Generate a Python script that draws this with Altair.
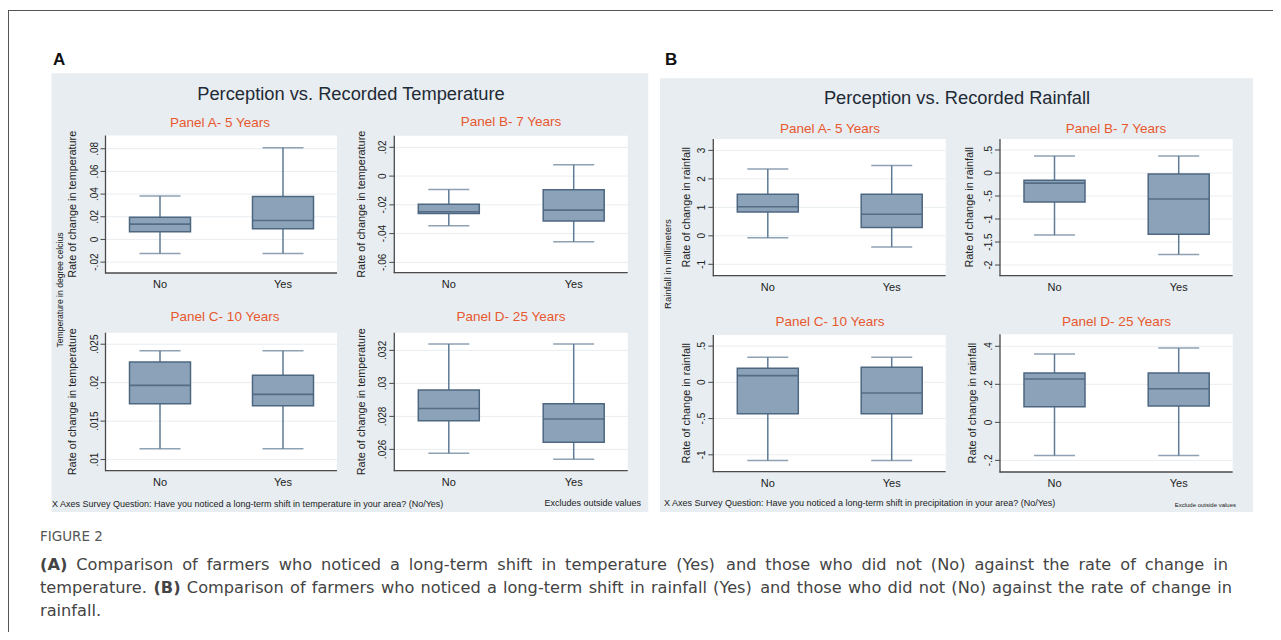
import altair as alt
import pandas as pd

# ---------------- data ----------------
groups = ["No", "Yes"]

# Temperature, Panel A- 5 Years
t5_low = [-0.0123, -0.0123]
t5_q1 = [0.0067, 0.0094]
t5_med = [0.0135, 0.0167]
t5_q3 = [0.0196, 0.0378]
t5_high = [0.0384, 0.0810]
t5_ticks = [-0.02, 0.0, 0.02, 0.04, 0.06, 0.08]
t5_tick_labels = ["-.02", "0", ".02", ".04", ".06", ".08"]
t5_range = [-0.0296, 0.0917]

# Temperature, Panel B- 7 Years
t7_low = [-0.0345, -0.0457]
t7_q1 = [-0.0260, -0.0313]
t7_med = [-0.0248, -0.0237]
t7_q3 = [-0.0195, -0.0095]
t7_high = [-0.0093, 0.0079]
t7_ticks = [-0.06, -0.04, -0.02, 0.0, 0.02]
t7_tick_labels = ["-.06", "-.04", "-.02", "0", ".02"]
t7_range = [-0.0672, 0.0281]

# Temperature, Panel C- 10 Years
t10_low = [0.01142, 0.01142]
t10_q1 = [0.01727, 0.01701]
t10_med = [0.01965, 0.01848]
t10_q3 = [0.02269, 0.02095]
t10_high = [0.02416, 0.02416]
t10_ticks = [0.01, 0.015, 0.02, 0.025]
t10_tick_labels = [".01", ".015", ".02", ".025"]
t10_range = [0.00855, 0.0265]

# Temperature, Panel D- 25 Years
t25_low = [0.02576, 0.02541]
t25_q1 = [0.02774, 0.02644]
t25_med = [0.02848, 0.02784]
t25_q3 = [0.02960, 0.02877]
t25_high = [0.03238, 0.03238]
t25_ticks = [0.026, 0.028, 0.030, 0.032]
t25_tick_labels = [".026", ".028", ".03", ".032"]
t25_range = [0.02471, 0.03307]

# Rainfall, Panel A- 5 Years
r5_low = [-0.07, -0.39]
r5_q1 = [0.84, 0.29]
r5_med = [1.02, 0.76]
r5_q3 = [1.46, 1.46]
r5_high = [2.35, 2.47]
r5_ticks = [-1, 0, 1, 2, 3]
r5_tick_labels = ["-1", "0", "1", "2", "3"]
r5_range = [-1.40, 3.40]

# Rainfall, Panel B- 7 Years
r7_low = [-1.35, -1.77]
r7_q1 = [-0.63, -1.33]
r7_med = [-0.22, -0.565]
r7_q3 = [-0.16, -0.02]
r7_high = [0.37, 0.37]
r7_ticks = [-2, -1.5, -1, -0.5, 0, 0.5]
r7_tick_labels = ["-2", "-1.5", "-1", "-.5", "0", ".5"]
r7_range = [-2.232, 0.739]

# Rainfall, Panel C- 10 Years
r10_low = [-1.077, -1.077]
r10_q1 = [-0.433, -0.433]
r10_med = [0.092, -0.147]
r10_q3 = [0.193, 0.207]
r10_high = [0.345, 0.345]
r10_ticks = [-1, -0.5, 0, 0.5]
r10_tick_labels = ["-1", "-.5", "0", ".5"]
r10_range = [-1.233, 0.653]

# Rainfall, Panel D- 25 Years
r25_low = [-0.174, -0.174]
r25_q1 = [0.0825, 0.086]
r25_med = [0.228, 0.177]
r25_q3 = [0.260, 0.260]
r25_high = [0.360, 0.391]
r25_ticks = [-0.2, 0, 0.2, 0.4]
r25_tick_labels = ["-.2", "0", ".2", ".4"]
r25_range = [-0.261, 0.463]

# caption text (justified lines)
cap_line1 = ("(A) Comparison of farmers who noticed a long-term shift in temperature "
             "(Yes) and those who did not (No) against the rate of change in")
cap_line2 = ("temperature. (B) Comparison of farmers who noticed a long-term shift in "
             "rainfall (Yes) and those who did not (No) against the rate of change in")
cap_line3 = "rainfall."
cap_bold = ["(A)", "(B)"]

# ---------------- layout / style ----------------
OX = OY = 8
W, H = 1265, 624

def cx(x):
    return x - OX

def cy(y):
    return y - OY

FONT = "Liberation Sans"
CAPFONT = "DejaVu Sans"
CAPSIZE = 16.2
PANEL_BG = "#E7EDF1"
GRID = "#E9EDF0"
AXIS = "#4A4A4A"
FILL = "#8CA2B9"
STROKE = "#4D6781"
WHISK = "#5F7A94"
MED = "#3D566F"
ORANGE = "#E8582E"
TXT = "#222222"
CAPCOL = "#444444"

one = pd.DataFrame({"k": [0]})

# approximate DejaVu Sans advance widths (units per em = 2048)
DV_REG = {" ": 651, "(": 799, ")": 799, "-": 739, ".": 651,
          "a": 1255, "b": 1300, "c": 1126, "d": 1300, "e": 1260, "f": 721,
          "g": 1300, "h": 1298, "i": 569, "k": 1186, "l": 569, "m": 1995,
          "n": 1298, "o": 1253, "p": 1300, "r": 842, "s": 1067, "t": 803,
          "u": 1298, "v": 1212, "w": 1675, "y": 1212,
          "A": 1401, "B": 1405, "C": 1430, "N": 1532, "Y": 1253}
DV_BOLD = {"(": 938, ")": 938, "A": 1587, "B": 1567}


def word_width(w, size, bold):
    tbl = DV_BOLD if bold else DV_REG
    return sum(tbl.get(ch, DV_REG.get(ch, 1250)) for ch in w) / 2048 * size


def justify(line, x0, x1, size):
    words = line.split(" ")
    bolds = [w in cap_bold for w in words]
    widths = [word_width(w, size, b) for w, b in zip(words, bolds)]
    gap = (x1 - x0 - sum(widths)) / (len(words) - 1)
    rows = []
    x = x0
    for i, (w, b, wd) in enumerate(zip(words, bolds, widths)):
        if i == len(words) - 1:
            rows.append({"w": w, "x": cx(x1), "bold": b, "al": "right"})
        else:
            rows.append({"w": w, "x": cx(x), "bold": b, "al": "left"})
        x += wd + gap
    return rows


def rect(x1, x2, y1, y2, fill):
    return alt.Chart(one).mark_rect(fill=fill).encode(
        x=alt.value(cx(x1)), x2=alt.value(cx(x2)),
        y=alt.value(cy(y1)), y2=alt.value(cy(y2)))


def hline(x1, x2, y, color, w=1.0):
    return alt.Chart(one).mark_rule(color=color, strokeWidth=w).encode(
        x=alt.value(cx(x1)), x2=alt.value(cx(x2)), y=alt.value(cy(y)))


def vline(x, y1, y2, color, w=1.0):
    return alt.Chart(one).mark_rule(color=color, strokeWidth=w).encode(
        x=alt.value(cx(x)), y=alt.value(cy(y1)), y2=alt.value(cy(y2)))


def text(x, y, s, size, color=TXT, weight="normal", align="center",
         angle=0, font=FONT, baseline="middle"):
    kw = dict(text=s, fontSize=size, color=color, fontWeight=weight,
              align=align, font=font, baseline=baseline)
    if angle:
        kw["angle"] = angle
    return alt.Chart(one).mark_text(**kw).encode(
        x=alt.value(cx(x)), y=alt.value(cy(y)))


def caption_line(line, y, x0, x1):
    rows = justify(line, x0, x1, CAPSIZE)
    out = []
    for bold in (False, True):
        for al in ("left", "right"):
            sel = [r for r in rows if r["bold"] == bold and r["al"] == al]
            if not sel:
                continue
            df = pd.DataFrame(sel)
            out.append(alt.Chart(df).mark_text(
                fontSize=CAPSIZE, font=CAPFONT, color=CAPCOL, align=al,
                baseline="middle", fontWeight="bold" if bold else "normal"
            ).encode(x=alt.X("x:Q", scale=None, axis=None),
                     y=alt.value(cy(y)), text="w:N"))
    return out


def subplot(box, title_xy, title, ytitle, ytitle_dx, yr,
            low, q1, med, q3, high, ticks, tick_labels):
    L, R, T, B = box
    yscale = alt.Scale(domain=yr, range=[cy(B), cy(T)], nice=False, zero=False)
    xscale = alt.Scale(type="point", domain=groups,
                       range=[cx(L + 54.5), cx(R - 54)], padding=0)
    bdf = pd.DataFrame({"group": groups, "low": low, "q1": q1, "med": med,
                        "q3": q3, "high": high})
    tdf = pd.DataFrame({"v": ticks, "lab": tick_labels})
    X = alt.X("group:N", scale=xscale, axis=None)

    def Y(f):
        return alt.Y(f, type="quantitative", scale=yscale, axis=None)

    layers = [
        rect(L, R, T, B, "white"),
        alt.Chart(tdf).mark_rule(color=GRID, strokeWidth=1).encode(
            y=Y("v"), x=alt.value(cx(L)), x2=alt.value(cx(R))),
        alt.Chart(tdf).mark_rule(color=AXIS, strokeWidth=1).encode(
            y=Y("v"), x=alt.value(cx(L - 5)), x2=alt.value(cx(L))),
        alt.Chart(tdf).mark_text(angle=270, fontSize=10, color=TXT, font=FONT,
                                 align="center", baseline="middle").encode(
            y=Y("v"), x=alt.value(cx(L - 11)), text="lab:N"),
        vline(L, T, B + 0.5, AXIS, 1.3),
        hline(L - 0.5, R, B, AXIS, 1.3),
        alt.Chart(bdf).mark_rule(color=WHISK, strokeWidth=1.5).encode(
            x=X, y=Y("low"), y2="high"),
        alt.Chart(bdf).mark_bar(size=61, fill=FILL, stroke=STROKE,
                                strokeWidth=1.5).encode(x=X, y=Y("q1"), y2="q3"),
        alt.Chart(bdf).mark_tick(size=41, thickness=1.5, color=WHISK).encode(
            x=X, y=Y("low")),
        alt.Chart(bdf).mark_tick(size=41, thickness=1.5, color=WHISK).encode(
            x=X, y=Y("high")),
        alt.Chart(bdf).mark_tick(size=60, thickness=1.6, color=MED).encode(
            x=X, y=Y("med")),
        alt.Chart(bdf).mark_text(fontSize=11, color=TXT, font=FONT).encode(
            x=X, y=alt.value(cy(B + 12)), text="group:N"),
        text(title_xy[0], title_xy[1], title, 13.5, color=ORANGE),
        text(L - ytitle_dx, (T + B) / 2, ytitle, 10.9, angle=270),
    ]
    return alt.layer(*layers)


TY = "Rate of change in temperature"
RY = "Rate of change in rainfall"

subs = [
    subplot((105.5, 337, 135.5, 273), (220, 122.5), "Panel A- 5 Years", TY, 32.5,
            t5_range, t5_low, t5_q1, t5_med, t5_q3, t5_high, t5_ticks, t5_tick_labels),
    subplot((394.3, 627.7, 135.7, 272.7), (511, 122), "Panel B- 7 Years", TY, 32.5,
            t7_range, t7_low, t7_q1, t7_med, t7_q3, t7_high, t7_ticks, t7_tick_labels),
    subplot((105.5, 337, 332.7, 470.7), (225, 316.5), "Panel C- 10 Years", TY, 32.5,
            t10_range, t10_low, t10_q1, t10_med, t10_q3, t10_high, t10_ticks, t10_tick_labels),
    subplot((394.3, 627.7, 332.7, 470.7), (511, 317), "Panel D- 25 Years", TY, 32.5,
            t25_range, t25_low, t25_q1, t25_med, t25_q3, t25_high, t25_ticks, t25_tick_labels),
    subplot((713.3, 945.7, 139, 275.7), (830, 129), "Panel A- 5 Years", RY, 26.6,
            r5_range, r5_low, r5_q1, r5_med, r5_q3, r5_high, r5_ticks, r5_tick_labels),
    subplot((1000, 1232.7, 139, 275.7), (1116, 129), "Panel B- 7 Years", RY, 30,
            r7_range, r7_low, r7_q1, r7_med, r7_q3, r7_high, r7_ticks, r7_tick_labels),
    subplot((713.3, 945.7, 335, 471.7), (830, 321.7), "Panel C- 10 Years", RY, 26.6,
            r10_range, r10_low, r10_q1, r10_med, r10_q3, r10_high, r10_ticks, r10_tick_labels),
    subplot((1000, 1232.7, 334.3, 472), (1116.5, 321.7), "Panel D- 25 Years", RY, 26.7,
            r25_range, r25_low, r25_q1, r25_med, r25_q3, r25_high, r25_ticks, r25_tick_labels),
]

decor = [
    # page frame
    hline(8, 1281, 10.5, "#555555", 1),
    vline(8.5, 10, 640, "#555555", 1),
    # panel backgrounds
    rect(51.5, 648.3, 73.3, 512, PANEL_BG),
    rect(660, 1253, 78.3, 512, PANEL_BG),
    # panel letters
    text(53, 60, "A", 17, color="#111111", weight="bold", align="left"),
    text(665, 60, "B", 17, color="#111111", weight="bold", align="left"),
    # panel titles
    text(351, 95, "Perception vs. Recorded Temperature", 18.3, color="#1F2A36"),
    text(957, 98.5, "Perception vs. Recorded Rainfall", 18.3, color="#1F2A36"),
    # outer axis notes
    text(60, 290, "Temperature in degree celcius", 8.6, angle=270),
    text(668, 264, "Rainfall in millimeters", 9.5, angle=270),
    # footers
    text(52, 504, "X Axes Survey Question: Have you noticed a long-term shift in temperature in your area? (No/Yes)",
         9, align="left"),
    text(641, 502.5, "Excludes outside values", 9, align="right"),
    text(664, 502.5, "X Axes Survey  Question: Have you noticed a long-term shift in precipitation in your area? (No/Yes)",
         9, align="left"),
    text(1236, 505, "Exclude outside values", 6, align="right"),
    # caption
    text(40, 537, "FIGURE 2", 13.5, color="#555555", align="left", font="DejaVu Sans"),
    text(40, 611, cap_line3, CAPSIZE, color=CAPCOL, align="left", font=CAPFONT),
]
decor += caption_line(cap_line1, 565, 40, 1228)
decor += caption_line(cap_line2, 588, 40, 1232)

chart = alt.layer(*decor, *subs).resolve_scale(
    x="independent", y="independent"
).properties(
    width=W, height=H, padding=0,
    autosize=alt.AutoSizeParams(type="none"),
    background="white",
).configure_view(stroke=None)

chart.save("out.html", embed_options={"renderer": "svg", "actions": False})
